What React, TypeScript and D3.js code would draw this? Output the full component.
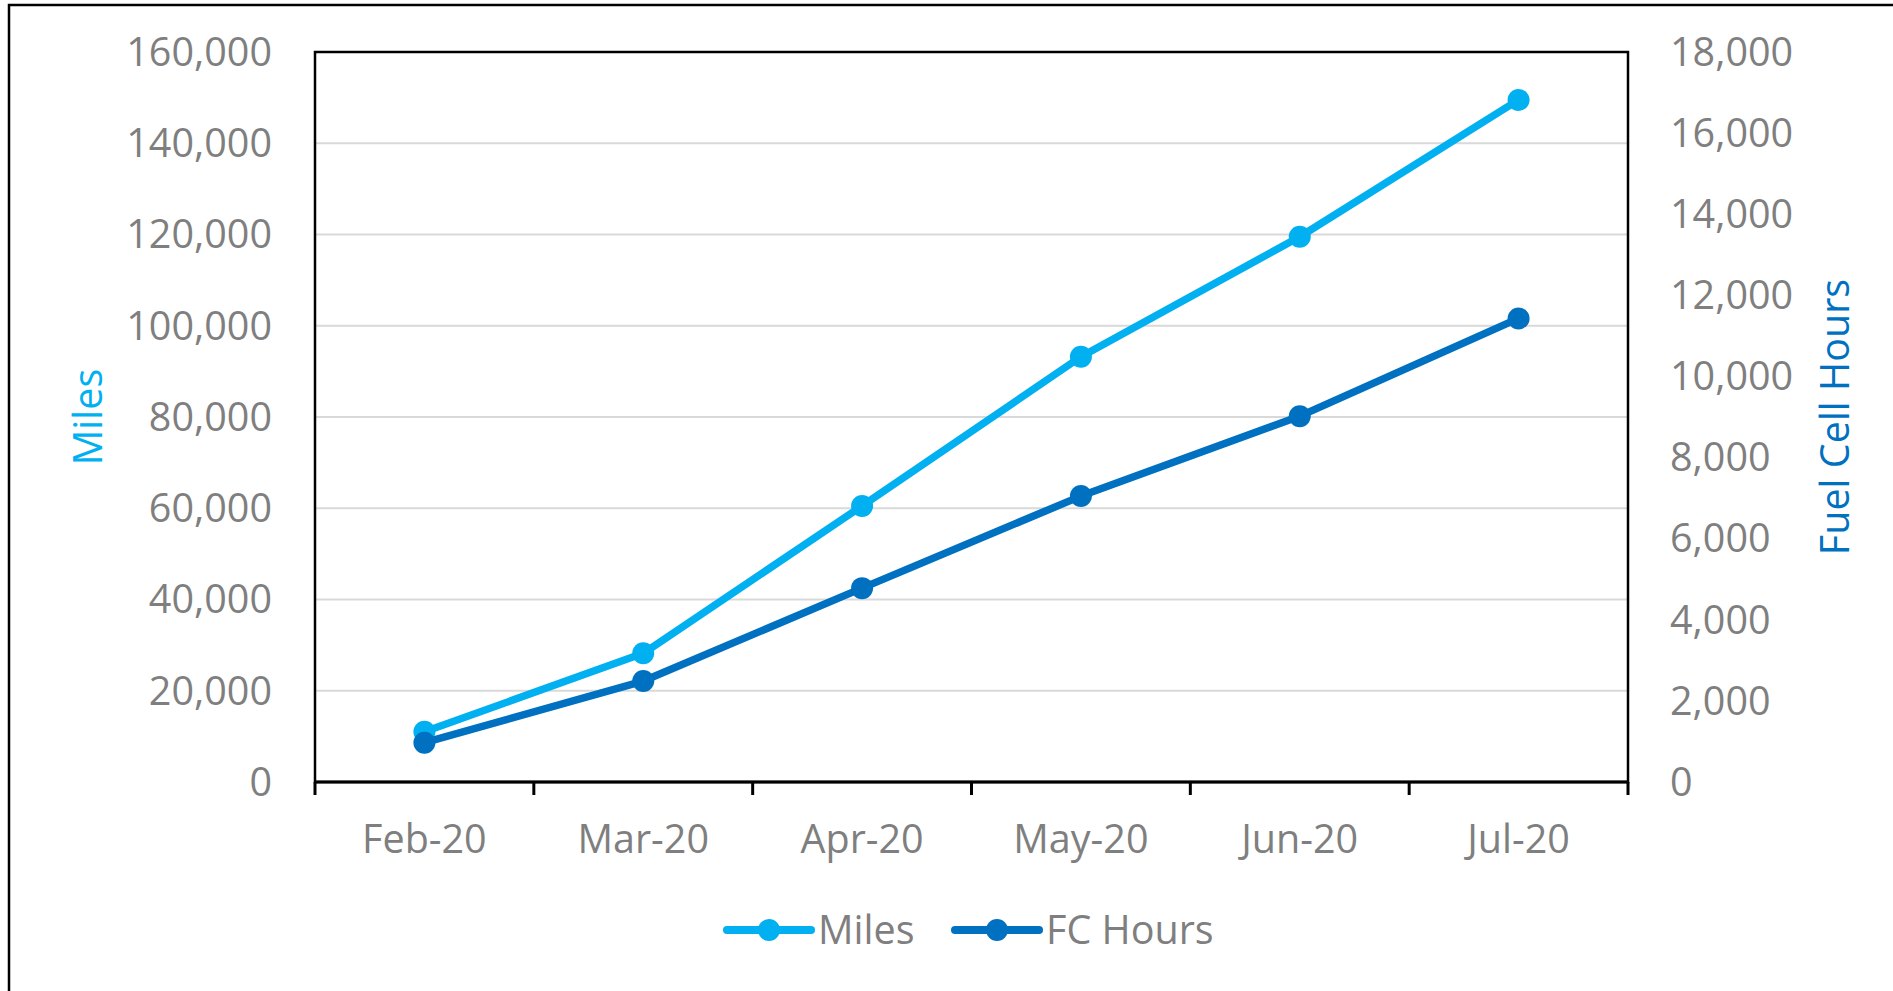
import React from "react";
import * as d3 from "d3";

const months = ["Feb-20", "Mar-20", "Apr-20", "May-20", "Jun-20", "Jul-20"];
const miles = [11000, 28200, 60500, 93200, 119500, 149500];
const fcHours = [970, 2490, 4780, 7050, 9020, 11430];
const leftTicks = [0, 20000, 40000, 60000, 80000, 100000, 120000, 140000, 160000];
const rightTicks = [0, 2000, 4000, 6000, 8000, 10000, 12000, 14000, 16000, 18000];
const seriesNames = ["Miles", "FC Hours"];

const W = 1893;
const H = 991;
const M = { left: 315, right: 1628, top: 52, bottom: 782 };
const MILES_COLOR = "#00B0F0";
const FC_COLOR = "#0070C0";
const TEXT = "#7F7F7F";
const FONT = "'Open Sans', sans-serif";
const FS = 39.5;

export default function App() {
  const x = d3.scaleBand<string>().domain(months).range([M.left, M.right]);
  const yL = d3.scaleLinear().domain([0, 160000]).range([M.bottom, M.top]);
  const yR = d3.scaleLinear().domain([0, 18000]).range([M.bottom, M.top]);
  const cx = (m: string) => (x(m) as number) + x.bandwidth() / 2;
  const fmt = d3.format(",");

  const lineL = d3
    .line<number>()
    .x((_, i) => cx(months[i]))
    .y((d) => yL(d));
  const lineR = d3
    .line<number>()
    .x((_, i) => cx(months[i]))
    .y((d) => yR(d));

  const boundaries = [...months.map((m) => x(m) as number), M.right];

  const legendY = 930;
  const legendItems = [
    { name: seriesNames[0], color: MILES_COLOR, x0: 727 },
    { name: seriesNames[1], color: FC_COLOR, x0: 955 },
  ];

  return (
    <svg
      width={W}
      height={H}
      style={{ position: "absolute", left: 0, top: 0, background: "#fff" }}
      fontFamily={FONT}
    >
      <rect x={0} y={0} width={W} height={H} fill="#fff" />
      <rect x={9} y={5} width={W + 20} height={H + 20} fill="none" stroke="#000" strokeWidth={2.5} />

      {/* gridlines */}
      {leftTicks
        .filter((t) => t > 0 && t < 160000)
        .map((t) => (
          <line key={t} x1={M.left} x2={M.right} y1={yL(t)} y2={yL(t)} stroke="#D9D9D9" strokeWidth={2} />
        ))}

      {/* plot border */}
      <rect
        x={M.left}
        y={M.top}
        width={M.right - M.left}
        height={M.bottom - M.top}
        fill="none"
        stroke="#000"
        strokeWidth={2.5}
      />
      <line x1={M.left} x2={M.right} y1={M.bottom} y2={M.bottom} stroke="#000" strokeWidth={3} />
      {boundaries.map((b, i) => (
        <line key={i} x1={b} x2={b} y1={M.bottom} y2={M.bottom + 13} stroke="#000" strokeWidth={3} />
      ))}

      {/* left ticks */}
      {leftTicks.map((t) => (
        <text key={t} x={272} y={yL(t)} dy="0.35em" textAnchor="end" fontSize={FS} fill={TEXT}>
          {fmt(t)}
        </text>
      ))}
      {/* right ticks */}
      {rightTicks.map((t) => (
        <text key={t} x={1670} y={yR(t)} dy="0.35em" textAnchor="start" fontSize={FS} fill={TEXT}>
          {fmt(t)}
        </text>
      ))}
      {/* x labels */}
      {months.map((m) => (
        <text key={m} x={cx(m)} y={839} dy="0.35em" textAnchor="middle" fontSize={FS} fill={TEXT}>
          {m}
        </text>
      ))}

      {/* axis titles */}
      <text
        transform={`translate(88, ${(M.top + M.bottom) / 2}) rotate(-90)`}
        textAnchor="middle"
        dy="0.35em"
        fontSize={FS}
        fill={MILES_COLOR}
      >
        Miles
      </text>
      <text
        transform={`translate(1835, ${(M.top + M.bottom) / 2}) rotate(-90)`}
        textAnchor="middle"
        dy="0.35em"
        fontSize={FS}
        fill={FC_COLOR}
      >
        Fuel Cell Hours
      </text>

      {/* series */}
      <path d={lineL(miles) || ""} fill="none" stroke={MILES_COLOR} strokeWidth={7.5} strokeLinejoin="round" />
      {miles.map((v, i) => (
        <circle key={i} cx={cx(months[i])} cy={yL(v)} r={11} fill={MILES_COLOR} />
      ))}
      <path d={lineR(fcHours) || ""} fill="none" stroke={FC_COLOR} strokeWidth={7.5} strokeLinejoin="round" />
      {fcHours.map((v, i) => (
        <circle key={i} cx={cx(months[i])} cy={yR(v)} r={11} fill={FC_COLOR} />
      ))}

      {/* legend */}
      {legendItems.map((it) => (
        <g key={it.name}>
          <line
            x1={it.x0}
            x2={it.x0 + 84}
            y1={legendY}
            y2={legendY}
            stroke={it.color}
            strokeWidth={8}
            strokeLinecap="round"
          />
          <circle cx={it.x0 + 42} cy={legendY} r={11} fill={it.color} />
          <text x={it.x0 + 91} y={legendY} dy="0.35em" fontSize={FS} fill={TEXT}>
            {it.name}
          </text>
        </g>
      ))}
    </svg>
  );
}
